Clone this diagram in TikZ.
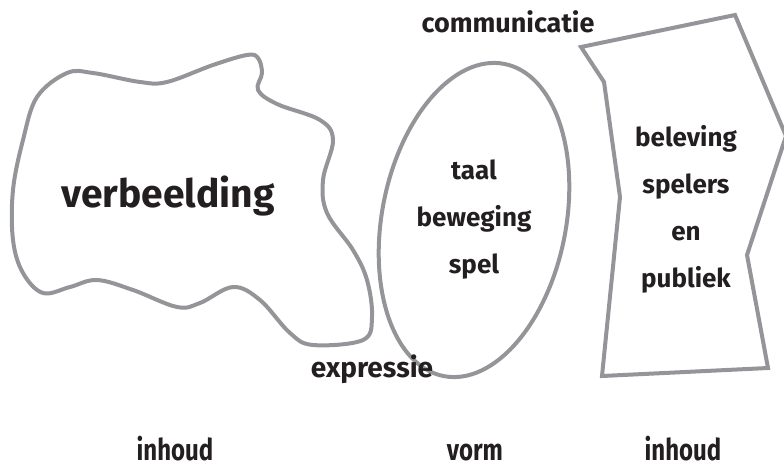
\documentclass[tikz,border=0pt]{standalone}
\usepackage{fontspec}
\setmainfont{Fira Sans}
\usetikzlibrary{shapes.geometric, positioning}
\definecolor{outlinegray}{RGB}{147,149,152}
\definecolor{inkblack}{RGB}{35,31,32}
\tikzset{
    outline/.style={draw=outlinegray, line width=4pt, line join=round},
    labelstyle/.style={font=\fontsize{27}{27}\selectfont\bfseries, text=inkblack, anchor=base},
    footstyle/.style={font=\fontsize{30}{30}\selectfont\bfseries, text=inkblack, anchor=base, inner sep=1pt, xscale=0.8, transform shape},
    boxtext/.style={align=center, text=inkblack, font=\fontsize{26}{47}\selectfont\bfseries},
    bigtext/.style={font=\fontsize{39}{39}\selectfont\bfseries, text=inkblack},
}

\begin{document}
\begin{tikzpicture}[x=1pt, y=-1pt]
    \useasboundingbox (0,0) rectangle (784,468);

    % Shapes
    \draw[outline] plot[smooth cycle, tension=0.6] coordinates {
        (247,55) (258,58) (262,73) (258,90) (277,104) (320,120) (333,140)
        (323,180) (327,213) (353,250) (367,280) (372,317) (363,340)
        (313,345) (290,333) (260,300) (233,287) (200,303) (177,307)
        (133,290) (97,280) (70,287) (43,293) (23,273) (13,240) (13,190)
        (23,140) (37,97) (67,73) (93,73) (140,82) (167,82) (213,65)};
    \node[ellipse, outline, rotate=-11, minimum width=184pt, minimum height=318pt, inner sep=0pt] (vormshape) at (474,220) {};
    \draw[outline, line join=miter] (581,47) -- (735,15) -- (786,136) -- (747,255) -- (768,368)
        -- (602,376) -- (620,197) -- (604,82) -- cycle;

    % Texts
    \node[bigtext] (verbeelding) at (168,196) {verbeelding};
    \node[boxtext] (vormtext) at (vormshape.center) {taal\\beweging\\spel};
    \node[boxtext] (beleving) at (686,209) {beleving\\spelers\\en\\publiek};
    \node[labelstyle] (communicatie) at (508,33) {communicatie};
    \node[labelstyle, font=\fontsize{28}{28}\selectfont\bfseries] (expressie) at (372,377) {expressie};

    \node[footstyle] (inhoudlinks) at (175,460) {inhoud};
    \node[footstyle] (vorm) at (475,460) {vorm};
    \node[footstyle] (inhoudrechts) at (683,460) {inhoud};

\end{tikzpicture}
\end{document}
